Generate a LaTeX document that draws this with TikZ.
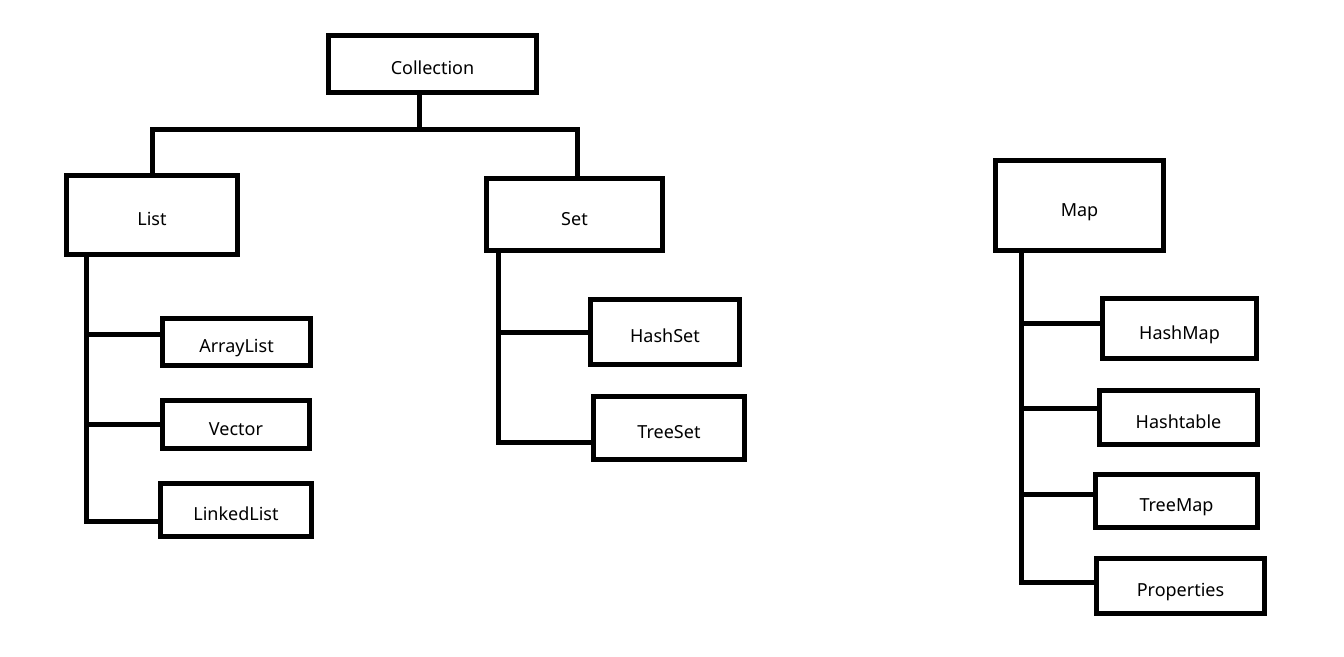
\documentclass[tikz,border=0pt]{standalone}
\usepackage{fontspec}
\setmainfont{Noto Sans}
\tikzset{
    box/.style={draw, line width=5pt, inner sep=0pt, text height=21pt, text depth=0pt,
        font=\fontsize{18}{21}\selectfont},
    link/.style={line width=5pt},
}
\begin{document}
\begin{tikzpicture}[x=1pt, y=-1pt]
    \useasboundingbox (0,0) rectangle (1344,656);
    % Collection side
    \node[box, minimum width=208pt, minimum height=57pt] (coll) at (432.5,64) {Collection};
    \node[box, minimum width=171pt, minimum height=79pt] (list) at (152,215) {List};
    \node[box, minimum width=176pt, minimum height=72pt] (set) at (574.5,214.5) {Set};
    \node[box, minimum width=148pt, minimum height=47pt] (arr) at (236.5,342) {ArrayList};
    \node[box, minimum width=147pt, minimum height=48pt] (vec) at (236,424.5) {Vector};
    \node[box, minimum width=151pt, minimum height=53pt] (linked) at (236,510) {LinkedList};
    \node[box, minimum width=149pt, minimum height=65pt] (hset) at (665,332) {HashSet};
    \node[box, minimum width=151pt, minimum height=63pt] (tset) at (669,428) {TreeSet};
    % Map side
    \node[box, minimum width=168pt, minimum height=90pt] (map) at (1079.5,205.5) {Map};
    \node[box, minimum width=154pt, minimum height=60pt] (hmap) at (1179.5,328.5) {HashMap};
    \node[box, minimum width=158pt, minimum height=54pt] (htab) at (1178.5,417.5) {Hashtable};
    \node[box, minimum width=162pt, minimum height=53pt] (tmap) at (1176.5,501) {TreeMap};
    \node[box, minimum width=168pt, minimum height=55pt] (props) at (1180.5,586) {Properties};

    \draw[link] ([xshift=-13pt]coll.south) -- ++(0,34) coordinate (bus) -| (list.north);
    \draw[link] (bus) -| ([xshift=2.5pt]set.north);

    \coordinate (ltrunk) at ([xshift=22pt]list.south west);
    \draw[link] (ltrunk) |- ([yshift=-11pt]linked.west);
    \draw[link] ([yshift=8pt]arr.west) coordinate (a1) -- (a1 -| ltrunk);
    \draw[link] (vec.west) -- (vec.west -| ltrunk);

    \coordinate (strunk) at ([xshift=14pt]set.south west);
    \draw[link] (strunk) |- ([yshift=-14pt]tset.west);
    \draw[link] (hset.west) -- (hset.west -| strunk);

    \coordinate (mtrunk) at ([xshift=28pt]map.south west);
    \draw[link] (mtrunk) |- ([yshift=4pt]props.west);
    \draw[link] ([yshift=5pt]hmap.west) coordinate (m1) -- (m1 -| mtrunk);
    \draw[link] ([yshift=9pt]htab.west) coordinate (m2) -- (m2 -| mtrunk);
    \draw[link] ([yshift=7pt]tmap.west) coordinate (m3) -- (m3 -| mtrunk);
\end{tikzpicture}
\end{document}
